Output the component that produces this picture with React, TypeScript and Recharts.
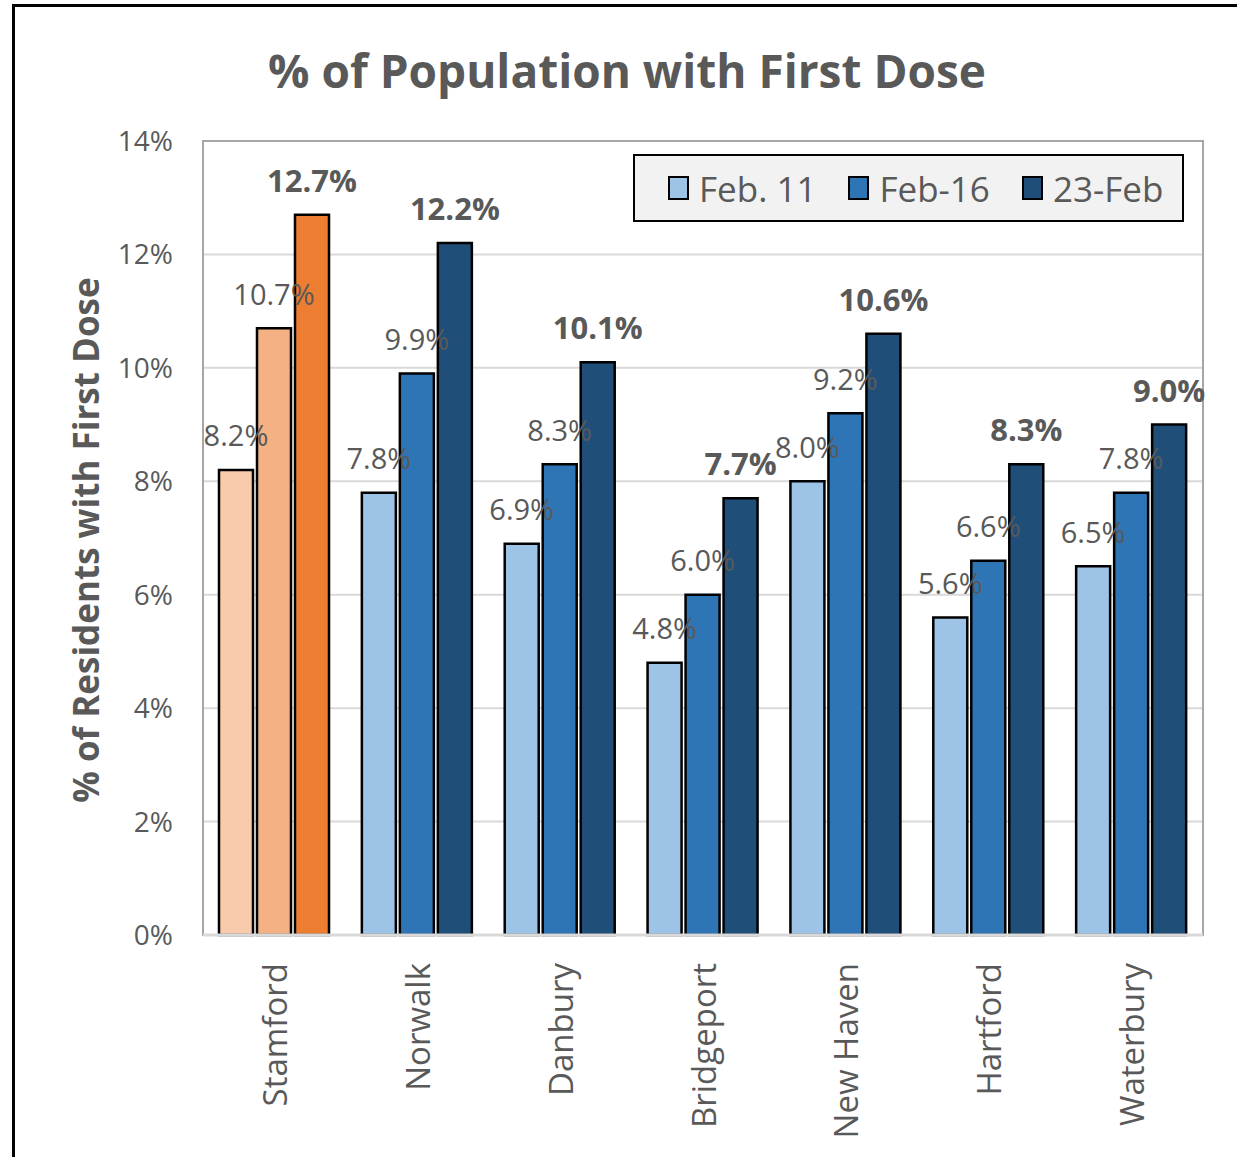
import { BarChart, Bar, XAxis, YAxis, CartesianGrid, Cell, LabelList, Legend, ReferenceArea } from "recharts";

const FONT = "'Open Sans', 'Noto Sans', sans-serif";
const GREY = "#595959";

const cities = ["Stamford", "Norwalk", "Danbury", "Bridgeport", "New Haven", "Hartford", "Waterbury"];
const feb11 = [8.2, 7.8, 6.9, 4.8, 8.0, 5.6, 6.5];
const feb16 = [10.7, 9.9, 8.3, 6.0, 9.2, 6.6, 7.8];
const feb23 = [12.7, 12.2, 10.1, 7.7, 10.6, 8.3, 9.0];
const yTicks = [0, 2, 4, 6, 8, 10, 12, 14];

const SERIES = [
  { key: "feb11", name: "Feb. 11", blue: "#9DC3E6", orange: "#F8CBAD", bold: false },
  { key: "feb16", name: "Feb-16", blue: "#2E75B6", orange: "#F4B183", bold: false },
  { key: "feb23", name: "23-Feb", blue: "#1F4E79", orange: "#ED7D31", bold: true },
];

const data = cities.map((c, i) => ({ city: c, feb11: feb11[i], feb16: feb16[i], feb23: feb23[i] }));

const makeLabel = (bold: boolean) => (props: any) => {
  const { x, y, width, value } = props;
  return (
    <text
      x={Number(x) + Number(width) / 2}
      y={Number(y) - 35}
      textAnchor="middle"
      dominantBaseline="central"
      fontSize={bold ? 31 : 29}
      fontWeight={bold ? 700 : 400}
      fill={GREY}
      fontFamily={FONT}
    >
      {Number(value).toFixed(1)}%
    </text>
  );
};

const CityTick = ({ x, y, payload }: any) => (
  <text
    transform={`translate(${x},${y + 20}) rotate(-90)`}
    textAnchor="end"
    dominantBaseline="central"
    fontSize={33}
    fill={GREY}
    fontFamily={FONT}
  >
    {payload.value}
  </text>
);

const LegendBox = () => (
  <div style={{
    boxSizing: "border-box",
    width: 551,
    height: 68,
    background: "#F2F2F2",
    border: "2px solid #000",
    display: "flex",
    alignItems: "center",
    paddingLeft: 33,
    gap: 32,
    fontFamily: FONT,
    fontSize: 35,
    color: GREY,
  }}>
    {SERIES.map((s) => (
      <span key={s.key} style={{ display: "flex", alignItems: "center", gap: 10 }}>
        <span style={{ boxSizing: "border-box", width: 21, height: 24, background: s.blue, border: "2px solid #000", display: "inline-block" }} />
        {s.name}
      </span>
    ))}
  </div>
);

export default function App() {
  return (
    <div style={{ position: "absolute", left: 0, top: 0, width: 1237, height: 1157, overflow: "hidden", background: "#fff" }}>
      <div style={{ position: "absolute", left: 12, top: 4, width: 1240, height: 1200, border: "3px solid #000" }} />
      <div style={{
        position: "absolute", left: 0, top: 42, width: 1254, textAlign: "center",
        fontFamily: FONT, fontWeight: 700, fontSize: 46, lineHeight: "56px", color: GREY,
      }}>
        % of Population with First Dose
      </div>
      <div style={{
        position: "absolute", left: 86 - 300, top: 540 - 25, width: 600, height: 50, lineHeight: "50px",
        textAlign: "center", transform: "rotate(-90deg)",
        fontFamily: FONT, fontWeight: 700, fontSize: 35, color: GREY,
      }}>
        % of Residents with First Dose
      </div>
      <div style={{ position: "absolute", left: 0, top: 0 }}>
        <BarChart
          width={1237}
          height={1157}
          data={data}
          margin={{ top: 141, right: 34, left: 143, bottom: 22 }}
          barCategoryGap={16}
          barGap={4}
        >
          <CartesianGrid vertical={false} stroke="#D9D9D9" strokeWidth={2} />
          <ReferenceArea y1={0} y2={14} fill="none" stroke="#A6A6A6" strokeWidth={2} />
          <XAxis
            dataKey="city"
            height={200}
            interval={0}
            tickLine={false}
            axisLine={{ stroke: "#D9D9D9", strokeWidth: 3 }}
            tick={<CityTick />}
          />
          <YAxis
            width={60}
            domain={[0, 14]}
            ticks={yTicks}
            tickFormatter={(v) => `${v}%`}
            tickLine={false}
            axisLine={false}
            tickSize={0}
            tickMargin={30}
            tick={{ fontSize: 28, fill: GREY, fontFamily: FONT }}
          />
          <Legend
            layout="vertical"
            align="center"
            verticalAlign="middle"
            wrapperStyle={{ left: 633, top: 154, width: 551 }}
            content={<LegendBox />}
          />
          {SERIES.map((s) => (
            <Bar key={s.key} dataKey={s.key} name={s.name} stroke="#000" strokeWidth={2.5} isAnimationActive={false}>
              {data.map((d, i) => (
                <Cell key={i} fill={i === 0 ? s.orange : s.blue} />
              ))}
              <LabelList dataKey={s.key} content={makeLabel(s.bold)} />
            </Bar>
          ))}
        </BarChart>
      </div>
    </div>
  );
}
